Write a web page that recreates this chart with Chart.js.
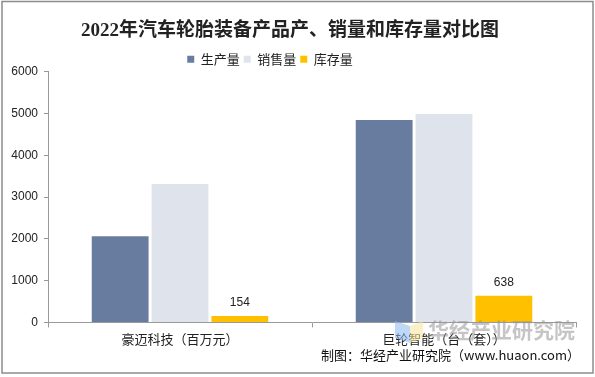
<!DOCTYPE html>
<html>
<head>
<meta charset="utf-8">
<script src="https://cdn.jsdelivr.net/npm/chart.js@4"></script>
<style>
  html, body { margin: 0; padding: 0; background: #fff; }
  #wrap { width: 595px; height: 377px; }
</style>
</head>
<body>
<div id="wrap"><canvas id="tireChart" width="595" height="377"></canvas></div>
<script>
const categories = ['豪迈科技（百万元）', '巨轮智能（台（套））'];
const seriesNames = ['生产量', '销售量', '库存量'];
const production = [2064, 4848];
const sales = [3312, 4992];
const inventory = [154, 638];
const yTicks = [0, 1000, 2000, 3000, 4000, 5000, 6000];

const colors = ['#687ca0', '#dfe3ec', '#ffc000'];
const cjk = '"Noto Sans CJK SC", "Liberation Sans", sans-serif';

// frame, watermark and source line
const decorations = {
    id: 'decorations',
    beforeDraw(chart) {
        const c = chart.ctx;
        c.save();
        c.fillStyle = '#fff';
        c.fillRect(0, 0, chart.width, chart.height);
        c.restore();
    },
    afterDraw(chart) {
        const c = chart.ctx;
        c.save();
        c.strokeStyle = '#8c8c8c';
        c.lineWidth = 1.5;
        c.strokeRect(2, 1.5, 591, 371.5);

        // watermark logo
        c.globalAlpha = 0.55;
        c.fillStyle = '#8db8f0';
        c.beginPath();
        c.moveTo(395, 321); c.lineTo(410, 326); c.lineTo(410, 343); c.lineTo(395, 338);
        c.closePath(); c.fill();
        c.fillStyle = '#f8e39a';
        c.beginPath();
        c.moveTo(410, 326); c.lineTo(423, 321); c.lineTo(423, 338); c.lineTo(410, 343);
        c.closePath(); c.fill();
        c.globalAlpha = 1;

        c.fillStyle = 'rgba(150,150,150,0.55)';
        c.font = 'bold 21px ' + cjk;
        c.textAlign = 'left';
        c.textBaseline = 'middle';
        c.fillText('华经产业研究院', 428, 330);

        c.fillStyle = '#111';
        c.font = '13px ' + cjk;
        c.textAlign = 'right';
        c.fillText('制图：华经产业研究院（www.huaon.com）', 580, 355);
        c.restore();
    }
};

// value labels above the inventory bars
const barLabels = {
    id: 'barLabels',
    afterDatasetsDraw(chart) {
        const c = chart.ctx;
        const meta = chart.getDatasetMeta(2);
        c.save();
        c.fillStyle = '#222';
        c.font = '12px "Liberation Sans", Arial, sans-serif';
        c.textAlign = 'center';
        c.textBaseline = 'bottom';
        meta.data.forEach((bar, i) => {
            c.fillText(inventory[i], bar.x, bar.y - 7);
        });
        c.restore();
    }
};

// nudge the legend left and down, like the original
const legendShift = {
    id: 'legendShift',
    afterLayout(chart) {
        chart.legend.left -= 20;
        chart.legend.right -= 20;
        chart.legend.top += 4;
        chart.legend.bottom += 4;
    }
};

new Chart(document.getElementById('tireChart').getContext('2d'), {
    type: 'bar',
    data: {
        labels: categories,
        datasets: [
            { label: seriesNames[0], data: production, backgroundColor: colors[0] },
            { label: seriesNames[1], data: sales, backgroundColor: colors[1] },
            { label: seriesNames[2], data: inventory, backgroundColor: colors[2] }
        ]
    },
    options: {
        responsive: false,
        animation: false,
        devicePixelRatio: 1,
        layout: { padding: { left: 4, right: 19, top: 18, bottom: 26 } },
        datasets: {
            bar: { categoryPercentage: 0.68, barPercentage: 0.95 }
        },
        plugins: {
            title: {
                display: true,
                text: '2022年汽车轮胎装备产品产、销量和库存量对比图',
                color: '#222',
                font: { family: '"Liberation Serif", "Noto Sans CJK SC", serif', size: 19, weight: 'bold' },
                padding: { top: 2, bottom: 2 }
            },
            legend: {
                display: true,
                labels: {
                    color: '#222',
                    font: { family: cjk, size: 13 },
                    boxWidth: 7,
                    boxHeight: 7,
                    padding: 4
                }
            },
            tooltip: { enabled: false }
        },
        scales: {
            x: {
                grid: { drawOnChartArea: false, drawTicks: true, tickLength: 5, color: '#999' },
                border: { color: '#999' },
                ticks: {
                    color: '#222',
                    font: { family: cjk, size: 13 },
                    padding: 4
                }
            },
            y: {
                min: 0,
                max: 6000,
                afterBuildTicks(scale) {
                    scale.ticks = yTicks.map(v => ({ value: v }));
                },
                afterFit(scale) {
                    scale.width = 44;
                },
                grid: { drawOnChartArea: false, drawTicks: true, tickLength: 4, color: '#999' },
                border: { color: '#999' },
                ticks: {
                    color: '#222',
                    font: { family: '"Liberation Sans", Arial, sans-serif', size: 12 },
                    padding: 6,
                    callback: v => String(v)
                }
            }
        }
    },
    plugins: [decorations, barLabels, legendShift]
});
</script>
</body>
</html>
